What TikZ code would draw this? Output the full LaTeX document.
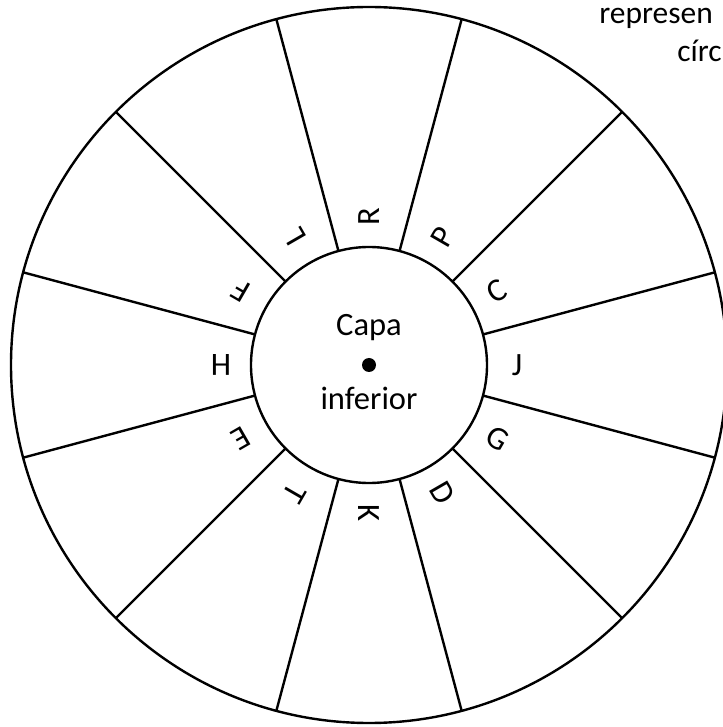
\documentclass[tikz,border=0pt]{standalone}
\usepackage{fontspec}
\setmainfont{Carlito}
\usepackage{tikz}
\tikzset{
    ring line/.style={
        line width=1.8pt, draw=black
    },
    sector letter/.style={
        inner sep=0pt, font=\fontsize{24.4}{28}\selectfont
    },
    core text/.style={
        inner sep=0pt, anchor=base, font=\fontsize{24.4}{28}\selectfont
    },
    edge text/.style={
        inner sep=0pt, anchor=base west, font=\fontsize{23.6}{28}\selectfont
    },
}

\begin{document}
\begin{tikzpicture}[x=0.75pt, y=0.75pt]

    % ── Frame ──
    \useasboundingbox (-369,-362) rectangle (354,365);
    \clip (-369,-362) rectangle (354,365);

    % ── Wheel ──
    \coordinate (hub) at (0,0);
    \draw[ring line] (hub) circle [radius=358];
    \draw[ring line] (hub) circle [radius=118];
    \foreach \ang in {15,45,...,345}
        \draw[ring line] (\ang:118) -- (\ang:358);

    % ── Sector letters ──
    \foreach \ang/\lbl in {0/J, 30/C, 60/P, 90/R, 120/L, 150/F,
                           180/H, 210/E, 240/T, 270/K, 300/D, 330/G}
        \node[sector letter, rotate=\ang] (sec\lbl) at (\ang:148) {\lbl};

    % ── Centre ──
    \fill (hub) circle [radius=7];
    \node[core text] (capa) at (0,29) {Capa};
    \node[core text] (inferior) at (0,-45) {inferior};

    % ── Top right text ──
    \node[edge text] (represen) at (230,341) {represen};
    \node[edge text] (circ) at (308,303) {círc};

\end{tikzpicture}
\end{document}
